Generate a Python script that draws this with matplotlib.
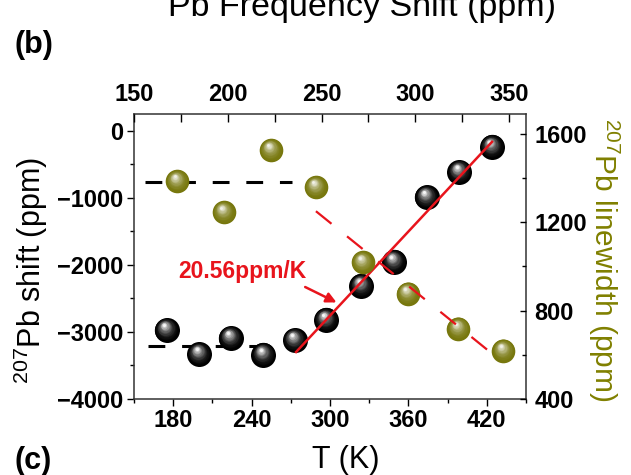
import numpy as np
import matplotlib
matplotlib.use("Agg")
import matplotlib.pyplot as plt
from matplotlib.colors import to_rgb
from matplotlib.transforms import ScaledTranslation
from matplotlib.ticker import MultipleLocator, FixedLocator

plt.rcParams['font.family'] = ['Liberation Sans', 'DejaVu Sans']
plt.rcParams['mathtext.default'] = 'regular'

# ---- data ----
T_shift = [175, 200, 224, 249, 273, 297, 324, 349, 374, 399, 424]          # bottom axis, K
pb_shift = [-2970, -3330, -3090, -3340, -3120, -2820, -2310, -1950, -990, -615, -240]  # ppm

T_top = [173, 198, 223, 247, 272, 296, 323, 347]                           # top axis
linewidth = [1386, 1245, 1527, 1359, 1018, 877, 718, 618]                  # ppm

fit_T = [274, 424]
fit_shift = [-3300, -165]
plateau_T = [161, 248]
plateau_shift = [-3210, -3210]

lw_plateau_x = [156, 234]
lw_plateau_y = [1382, 1382]
lw_trend_x = [247, 343]
lw_trend_y = [1250, 591]

slope_label = '20.56ppm/K'
arrow_tail = (281, -2330)
arrow_head = (305, -2560)
label_pos = (233, -2100)

bottom_ticks = [180, 240, 300, 360, 420]
left_ticks = [0, -1000, -2000, -3000, -4000]
top_ticks = [150, 200, 250, 300, 350]
right_ticks = [400, 800, 1200, 1600]

RED = '#e8141c'
OLIVE = '#77770d'
OLIVE_TXT = '#808000'

fig = plt.figure(figsize=(6.31, 4.75), dpi=100)
rect = [134/631, 1-399/475, 392/631, 285/475]
ax = fig.add_axes(rect)
ax2 = fig.add_axes(rect, facecolor='none')


def spheres(a, x, y, base, ms, z, hi=0.95):
    base = np.array(to_rgb(base))
    n = 14
    for i in range(n):
        f = i/(n-1)
        s = ms*(1-0.88*f)
        off = 0.5*ms*f
        col = np.clip(base + (1-base)*(f**2.0)*hi, 0, 1)
        tr = a.transData + ScaledTranslation(-0.22*off/72, 0.40*off/72, fig.dpi_scale_trans)
        a.plot(x, y, 'o', ms=s, color=col, mec='none', transform=tr,
               zorder=z + i*0.01, clip_on=False)


# ---- main (bottom/left) axes ----
ax.plot(plateau_T, plateau_shift, color='black', lw=2.2, dashes=(5.5, 5.5), zorder=2)
spheres(ax, T_shift, pb_shift, '#000000', 18, 3, hi=0.97)
ax.plot(fit_T, fit_shift, color=RED, lw=1.8, zorder=5)
ax.annotate('', xy=arrow_head, xytext=arrow_tail,
            arrowprops=dict(arrowstyle='-|>,head_length=0.6,head_width=0.3',
                            color=RED, lw=1.8, shrinkA=0, shrinkB=0), zorder=6)
ax.text(*label_pos, slope_label, color=RED, fontsize=16.5, fontweight='bold',
        ha='center', va='center', zorder=6)

ax.set_xlim(150, 450)
ax.set_ylim(-4000, 250)
ax.xaxis.set_major_locator(FixedLocator(bottom_ticks))
ax.xaxis.set_minor_locator(MultipleLocator(30))
ax.yaxis.set_major_locator(FixedLocator(left_ticks))
ax.yaxis.set_minor_locator(MultipleLocator(500))
ax.xaxis.tick_bottom()
ax.yaxis.tick_left()
ax.tick_params(axis='both', which='major', direction='out', length=5, width=1,
               labelsize=17, pad=2.5)
ax.tick_params(axis='both', which='minor', direction='out', length=3, width=1)
for lab in ax.get_xticklabels() + ax.get_yticklabels():
    lab.set_fontweight('bold')
ax.set_xlabel('T (K)', fontsize=22)
ax.xaxis.set_label_coords(0.54, -0.16)
ax.set_ylabel('$^{207}$Pb shift (ppm)', fontsize=22)
ax.yaxis.set_label_coords(-0.215, 0.45)
for sp in ax.spines.values():
    sp.set_linewidth(1.1)
    sp.set_color('#333333')

# ---- twin (top/right) axes ----
ax2.plot(lw_plateau_x, lw_plateau_y, color='black', lw=2.2, dashes=(5.5, 5.5), zorder=2)
spheres(ax2, T_top, linewidth, OLIVE, 17, 3, hi=0.9)
ax2.plot(lw_trend_x, lw_trend_y, color=RED, lw=1.6, dashes=(9, 9), zorder=5)

ax2.set_xlim(150, 359)
ax2.set_ylim(400, 1690)
ax2.xaxis.tick_top()
ax2.yaxis.tick_right()
ax2.xaxis.set_label_position('top')
ax2.yaxis.set_label_position('right')
ax2.xaxis.set_major_locator(FixedLocator(top_ticks))
ax2.xaxis.set_minor_locator(MultipleLocator(25))
ax2.yaxis.set_major_locator(FixedLocator(right_ticks))
ax2.yaxis.set_minor_locator(MultipleLocator(200))
ax2.tick_params(axis='x', which='major', direction='in', length=6, width=1,
                labelsize=17, pad=6)
ax2.tick_params(axis='x', which='minor', direction='in', length=6, width=1)
ax2.tick_params(axis='y', which='major', direction='in', length=4, width=1,
                labelsize=17, pad=6)
ax2.tick_params(axis='y', which='minor', direction='in', length=3, width=1)
for lab in ax2.get_xticklabels() + ax2.get_yticklabels():
    lab.set_fontweight('bold')
ax2.set_ylabel('$^{207}$Pb linewidth (ppm)', fontsize=21.5, color=OLIVE_TXT,
               rotation=270, va='bottom')
ax2.yaxis.set_label_coords(1.152, 0.49)
for sp in ax2.spines.values():
    sp.set_visible(False)

# ---- panel texts ----
fig.text(14/631, 1-45/475, '(b)', fontsize=22, fontweight='bold', va='center')
fig.text(14/631, 1-461/475, '(c)', fontsize=22, fontweight='bold', va='center')
fig.text(168/631, 1-16/475, 'Pb Frequency Shift (ppm)', fontsize=24.5, va='baseline')

fig.savefig('out.png', dpi=100)
